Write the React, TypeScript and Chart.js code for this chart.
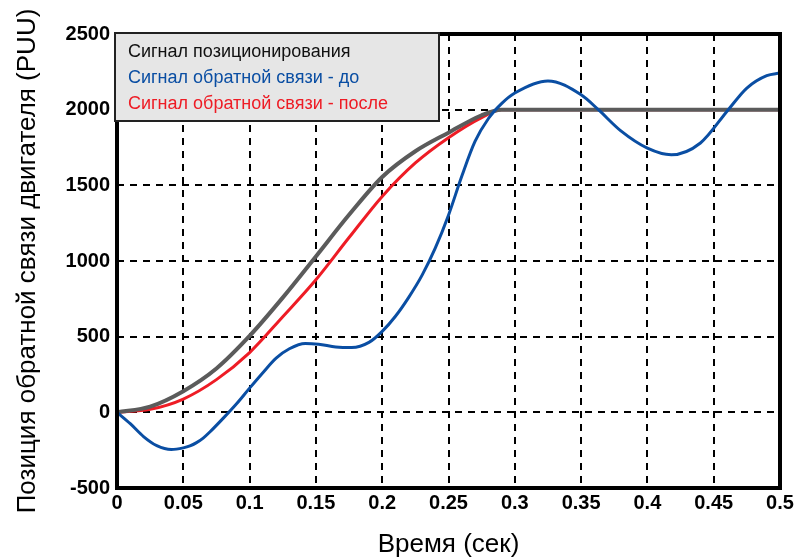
import React, { useEffect, useRef } from "react";
import { Chart, registerables } from "chart.js";

Chart.register(...registerables);

const seriesLabels = [
  "Сигнал позиционирования",
  "Сигнал обратной связи - до",
  "Сигнал обратной связи - после",
];

const grayT = [0, 0.025, 0.05, 0.075, 0.1, 0.125, 0.15, 0.175, 0.2, 0.225, 0.25, 0.275, 0.29, 0.35, 0.4, 0.45, 0.5];
const grayV = [0, 38, 140, 290, 505, 758, 1030, 1305, 1555, 1725, 1848, 1963, 2000, 2000, 2000, 2000, 2000];

const redT = [0, 0.025, 0.05, 0.075, 0.1, 0.125, 0.15, 0.175, 0.2, 0.225, 0.25, 0.275, 0.29, 0.35, 0.4, 0.45, 0.5];
const redV = [0, 20, 88, 216, 395, 632, 876, 1155, 1427, 1648, 1815, 1948, 2000, 2000, 2000, 2000, 2000];

const blueT = [0, 0.01, 0.02, 0.03, 0.041, 0.05, 0.055, 0.06, 0.065, 0.07, 0.08, 0.09, 0.1, 0.11, 0.12, 0.13, 0.142, 0.152, 0.165, 0.177, 0.19, 0.2, 0.21, 0.22, 0.23, 0.24, 0.25, 0.26, 0.27, 0.28, 0.29, 0.3, 0.325, 0.35, 0.363, 0.38, 0.4, 0.418, 0.44, 0.461, 0.475, 0.49, 0.5];
const blueV = [0, -75, -160, -220, -246, -235, -222, -200, -170, -130, -40, 55, 160, 262, 358, 420, 455, 450, 432, 428, 462, 535, 635, 760, 905, 1085, 1303, 1560, 1790, 1940, 2040, 2110, 2190, 2098, 2000, 1860, 1746, 1702, 1780, 2000, 2143, 2225, 2242];

const xTickLabels = ["0", "0.05", "0.1", "0.15", "0.2", "0.25", "0.3", "0.35", "0.4", "0.45", "0.5"];
const yTickLabels = ["-500", "0", "500", "1000", "1500", "2000", "2500"];

const xTitle = "Время (сек)";
const yTitle = "Позиция обратной связи двигателя (PUU)";

const colors = ["#5b5b5b", "#0a4ea3", "#ee1c25"];

const FONT = "'Liberation Sans', Arial, sans-serif";

function pts(t: number[], v: number[]) {
  return t.map((x, i) => ({ x, y: v[i] }));
}

const framePlugin = {
  id: "frameLegend",
  afterDatasetsDraw(chart: any) {
    const { ctx, chartArea } = chart;
    ctx.save();
    ctx.strokeStyle = "#000";
    ctx.lineWidth = 4;
    ctx.strokeRect(chartArea.left, chartArea.top, chartArea.right - chartArea.left, chartArea.bottom - chartArea.top);
    // legend box
    const bx = chartArea.left - 2;
    const by = chartArea.top - 1;
    const bw = 324;
    const bh = 88;
    ctx.fillStyle = "#e6e6e6";
    ctx.fillRect(bx, by, bw, bh);
    ctx.lineWidth = 2;
    ctx.strokeStyle = "#222";
    ctx.strokeRect(bx, by, bw, bh);
    ctx.font = `18px ${FONT}`;
    ctx.textBaseline = "middle";
    ctx.textAlign = "left";
    const rowsY = [by + 19, by + 45, by + 71];
    seriesLabels.forEach((lab, i) => {
      ctx.fillStyle = i === 0 ? "#111" : colors[i];
      ctx.fillText(lab, bx + 13, rowsY[i]);
    });
    ctx.restore();
  },
};

export default function App() {
  const ref = useRef<HTMLCanvasElement>(null);
  useEffect(() => {
    if (!ref.current) return;
    const chart = new Chart(ref.current, {
      type: "line",
      data: {
        datasets: [
          {
            label: seriesLabels[0],
            data: pts(grayT, grayV),
            borderColor: colors[0],
            borderWidth: 4,
            pointRadius: 0,
            cubicInterpolationMode: "monotone",
            order: 1,
          },
          {
            label: seriesLabels[1],
            data: pts(blueT, blueV),
            borderColor: colors[1],
            borderWidth: 3,
            pointRadius: 0,
            cubicInterpolationMode: "monotone",
            order: 0,
          },
          {
            label: seriesLabels[2],
            data: pts(redT, redV),
            borderColor: colors[2],
            borderWidth: 3,
            pointRadius: 0,
            cubicInterpolationMode: "monotone",
            order: 2,
          },
        ],
      },
      options: {
        responsive: false,
        animation: false,
        layout: { padding: { top: 34, right: 30, left: 0, bottom: 0 } },
        plugins: { legend: { display: false }, tooltip: { enabled: false } },
        scales: {
          x: {
            type: "linear",
            min: 0,
            max: 0.5,
            afterFit: (s: any) => {
              s.height = 72;
            },
            afterBuildTicks: (s: any) => {
              s.ticks = xTickLabels.map((l) => ({ value: parseFloat(l) }));
            },
            ticks: {
              color: "#000",
              font: { family: FONT, size: 20, weight: "bold" },
              padding: 3,
              maxRotation: 0,
              autoSkip: false,
              callback: (v: any, i: number) => xTickLabels[i],
            },
            grid: { color: "#000", lineWidth: 2, drawTicks: false },
            border: { display: false, dash: [7, 6] },
            title: {
              display: true,
              text: xTitle,
              color: "#000",
              font: { family: FONT, size: 26 },
              padding: { top: 0, bottom: 0 },
            },
          },
          y: {
            type: "linear",
            min: -500,
            max: 2500,
            afterFit: (s: any) => {
              s.width = 117;
            },
            afterBuildTicks: (s: any) => {
              s.ticks = yTickLabels.map((l) => ({ value: parseFloat(l) }));
            },
            ticks: {
              color: "#000",
              font: { family: FONT, size: 20, weight: "bold" },
              padding: 7,
              autoSkip: false,
              callback: (v: any, i: number) => yTickLabels[i],
            },
            grid: { color: "#000", lineWidth: 2, drawTicks: false },
            border: { display: false, dash: [7, 6] },
            title: {
              display: true,
              text: yTitle,
              color: "#000",
              font: { family: FONT, size: 26 },
              padding: { top: 12, bottom: 0 },
            },
          },
        },
      },
      plugins: [framePlugin],
    } as any);
    return () => chart.destroy();
  }, []);
  return (
    <div style={{ position: "absolute", left: 0, top: 0, width: 810, height: 560, background: "#fff" }}>
      <canvas ref={ref} width={810} height={560} />
    </div>
  );
}
